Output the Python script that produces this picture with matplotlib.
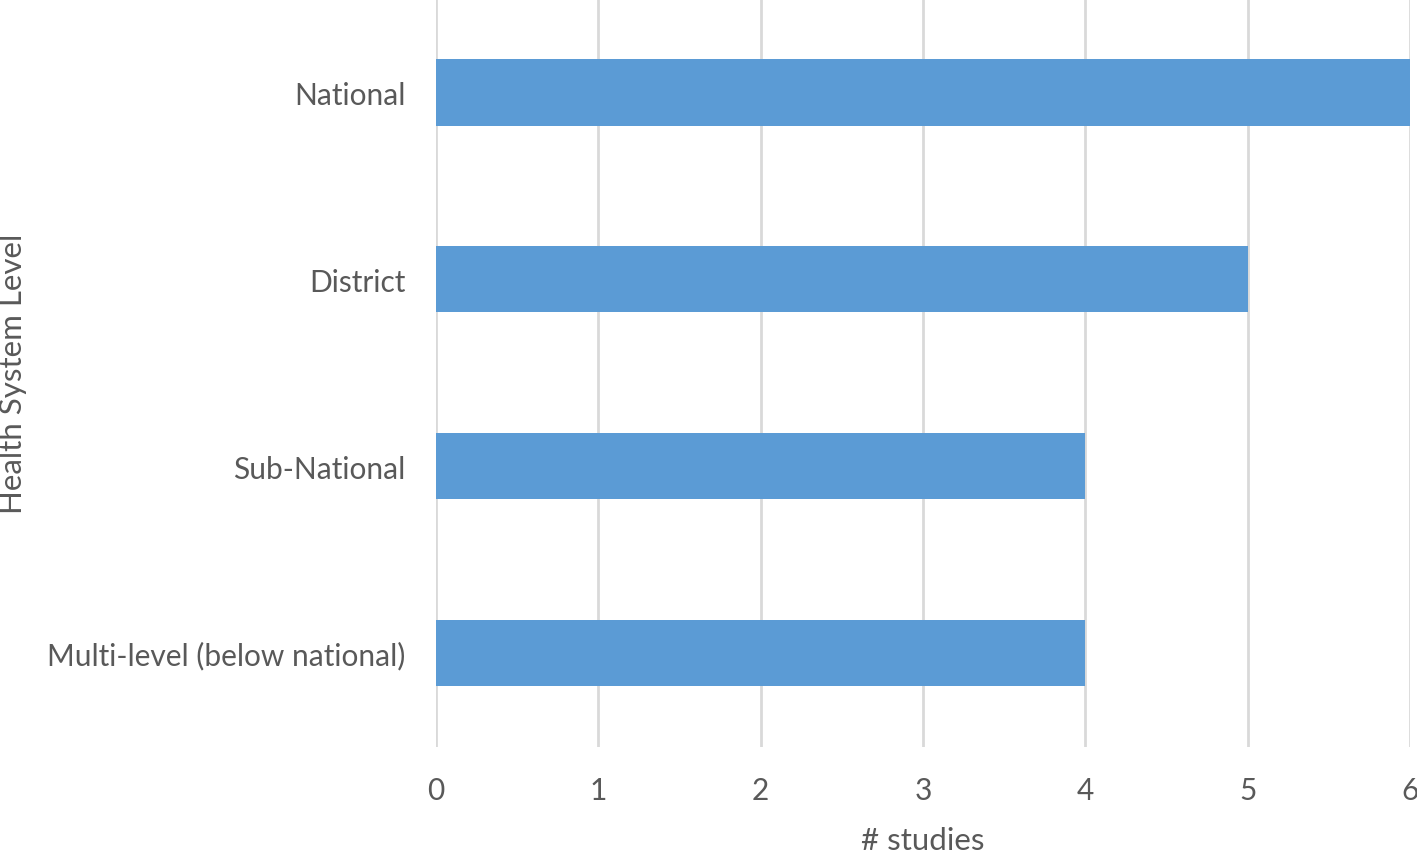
import matplotlib
matplotlib.use("Agg")
import matplotlib.pyplot as plt

categories = ["Multi-level (below national)", "Sub-National", "District", "National"]
values = [4, 4, 5, 6]
xticks = [0, 1, 2, 3, 4, 5, 6]

plt.rcParams['font.family'] = ['Lato', 'DejaVu Sans']
text_color = "#595959"

fig = plt.figure(figsize=(14.17, 8.53), dpi=100)
ax = fig.add_axes([436/1417, 1 - 747.5/853, (1410 - 436)/1417, 747.5/853])

ax.barh(range(len(categories)), values, height=0.355, color="#5B9BD5", zorder=3)
ax.set_xlim(0, 6)
ax.set_ylim(-0.5, len(categories) - 0.5)
ax.set_xticks(xticks)
ax.set_xticklabels([str(t) for t in xticks])
ax.set_yticks(range(len(categories)))
ax.set_yticklabels(categories)

ax.grid(axis='x', color="#d9d9d9", linewidth=2, zorder=0)
ax.grid(axis='y', visible=False)
for s in ax.spines.values():
    s.set_visible(False)
ax.tick_params(axis='both', length=0, labelsize=21.5, colors=text_color)
ax.tick_params(axis='x', pad=21)
ax.tick_params(axis='y', pad=22)

ax.set_xlabel("# studies", fontsize=22.5, color=text_color, labelpad=16)
ax.set_ylabel("Health System Level", fontsize=22.5, color=text_color)
ax.yaxis.set_label_coords(-(436 - 27) / 974, 0.5)

fig.savefig("out.png", dpi=100)
